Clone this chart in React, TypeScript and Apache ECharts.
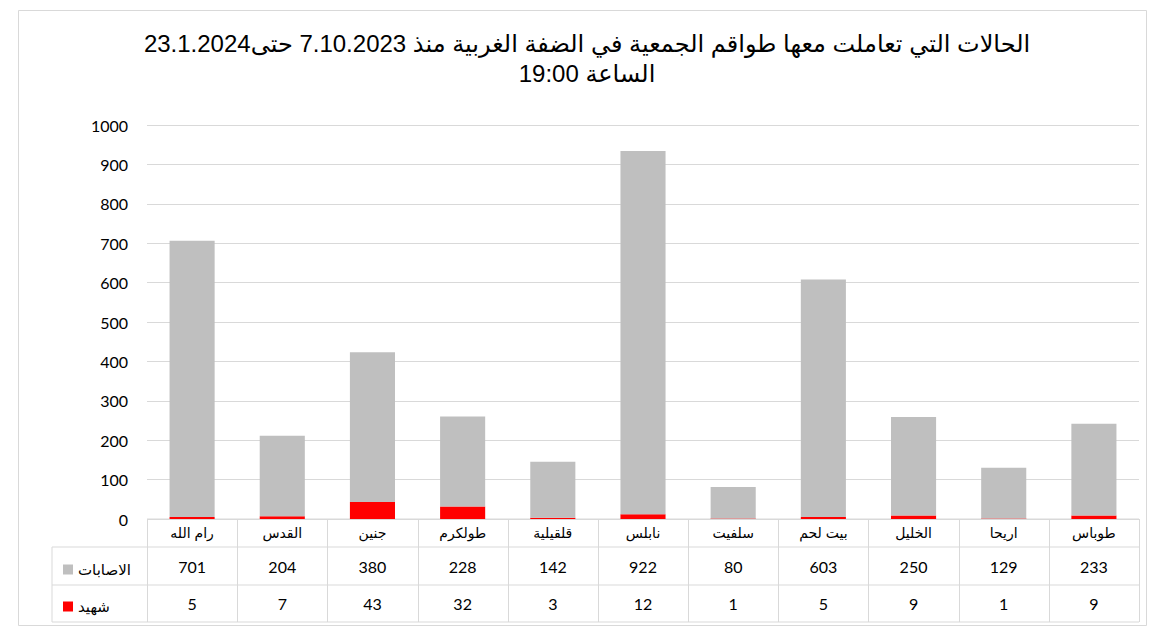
import React, { useEffect, useRef } from "react";
import * as echarts from "echarts";

const categories = ["رام الله", "القدس", "جنين", "طولكرم", "قلقيلية", "نابلس", "سلفيت", "بيت لحم", "الخليل", "اريحا", "طوباس"];
const injuries = [701, 204, 380, 228, 142, 922, 80, 603, 250, 129, 233];
const martyrs = [5, 7, 43, 32, 3, 12, 1, 5, 9, 1, 9];
const seriesNames = ["الاصابات", "شهيد"];
const titleLines = ["الحالات التي تعاملت معها طواقم الجمعية في الضفة الغربية منذ 7.10.2023 حتى23.1.2024", "الساعة 19:00"];

const W = 1164;
const H = 633;
const gridL = 147;
const gridR = 1139;
const gridT = 125;
const gridB = 519;
const row1 = 547;
const row2 = 585;
const row3 = 622;
const tableL = 52;
const lineColor = "#d9d9d9";
const numFont = "Lato, 'DejaVu Sans', sans-serif";
const arFont = "'Liberation Sans', 'DejaVu Sans', sans-serif";

export default function App() {
  const ref = useRef<HTMLDivElement>(null);
  useEffect(() => {
    if (!ref.current) return;
    const chart = echarts.init(ref.current, null, { renderer: "svg" });
    const n = categories.length;
    const colW = (gridR - gridL) / n;
    const lines: any[] = [];
    const ls = { stroke: lineColor, lineWidth: 1 };
    lines.push({ type: "line", shape: { x1: gridL, y1: gridB, x2: gridR, y2: gridB }, style: ls });
    lines.push({ type: "line", shape: { x1: tableL, y1: row1, x2: gridR, y2: row1 }, style: ls });
    lines.push({ type: "line", shape: { x1: tableL, y1: row2, x2: gridR, y2: row2 }, style: ls });
    lines.push({ type: "line", shape: { x1: tableL, y1: row3, x2: gridR, y2: row3 }, style: ls });
    lines.push({ type: "line", shape: { x1: tableL, y1: row1, x2: tableL, y2: row3 }, style: ls });
    for (let i = 0; i <= n; i++) {
      const x = Math.round(gridL + i * colW) + 0.5;
      lines.push({ type: "line", shape: { x1: x, y1: gridB, x2: x, y2: row3 }, style: ls });
    }
    const baseAxis = {
      type: "category",
      position: "bottom",
      axisLine: { show: false },
      axisTick: { show: false },
      axisLabel: { interval: 0, fontSize: 16, color: "#000", fontFamily: numFont, margin: 8 },
    };
    chart.setOption({
      animation: false,
      backgroundColor: "#fff",
      title: {
        text: titleLines.join("\n"),
        left: 582,
        textAlign: "center",
        top: 23,
        textStyle: { fontSize: 24, fontWeight: "normal", color: "#000", fontFamily: arFont, lineHeight: 30 },
      },
      legend: {
        orient: "vertical",
        left: 58,
        top: 557,
        itemWidth: 10,
        itemHeight: 10,
        itemGap: 22,
        icon: "rect",
        data: seriesNames,
        textStyle: { fontSize: 15, color: "#000", fontFamily: arFont },
      },
      grid: { left: gridL, right: W - gridR, top: gridT, bottom: H - gridB },
      xAxis: [
        { ...baseAxis, data: categories, axisLabel: { ...baseAxis.axisLabel, fontFamily: arFont, fontSize: 14, margin: 7 } },
        { ...baseAxis, data: injuries.map(String), offset: 31 },
        { ...baseAxis, data: martyrs.map(String), offset: 68 },
      ],
      yAxis: {
        type: "value",
        min: 0,
        max: 1000,
        interval: 100,
        axisLine: { show: false },
        axisTick: { show: false },
        axisLabel: { fontSize: 16, color: "#000", fontFamily: numFont, margin: 19, formatter: (v: number) => String(v) },
        splitLine: { lineStyle: { color: lineColor, width: 1 } },
      },
      series: [
        {
          name: seriesNames[1],
          type: "bar",
          stack: "s",
          data: martyrs,
          barWidth: "50%",
          itemStyle: { color: "#ff0000" },
        },
        {
          name: seriesNames[0],
          type: "bar",
          stack: "s",
          data: injuries,
          barWidth: "50%",
          itemStyle: { color: "#bfbfbf" },
        },
      ],
      graphic: [
        ...lines,
        { type: "rect", shape: { x: 18.5, y: 10.5, width: 1128, height: 615 }, style: { fill: "none", stroke: lineColor, lineWidth: 1 }, silent: true },
      ],
    });
    return () => chart.dispose();
  }, []);
  return <div ref={ref} style={{ position: "fixed", left: 0, top: 0, width: W, height: H }} />;
}
